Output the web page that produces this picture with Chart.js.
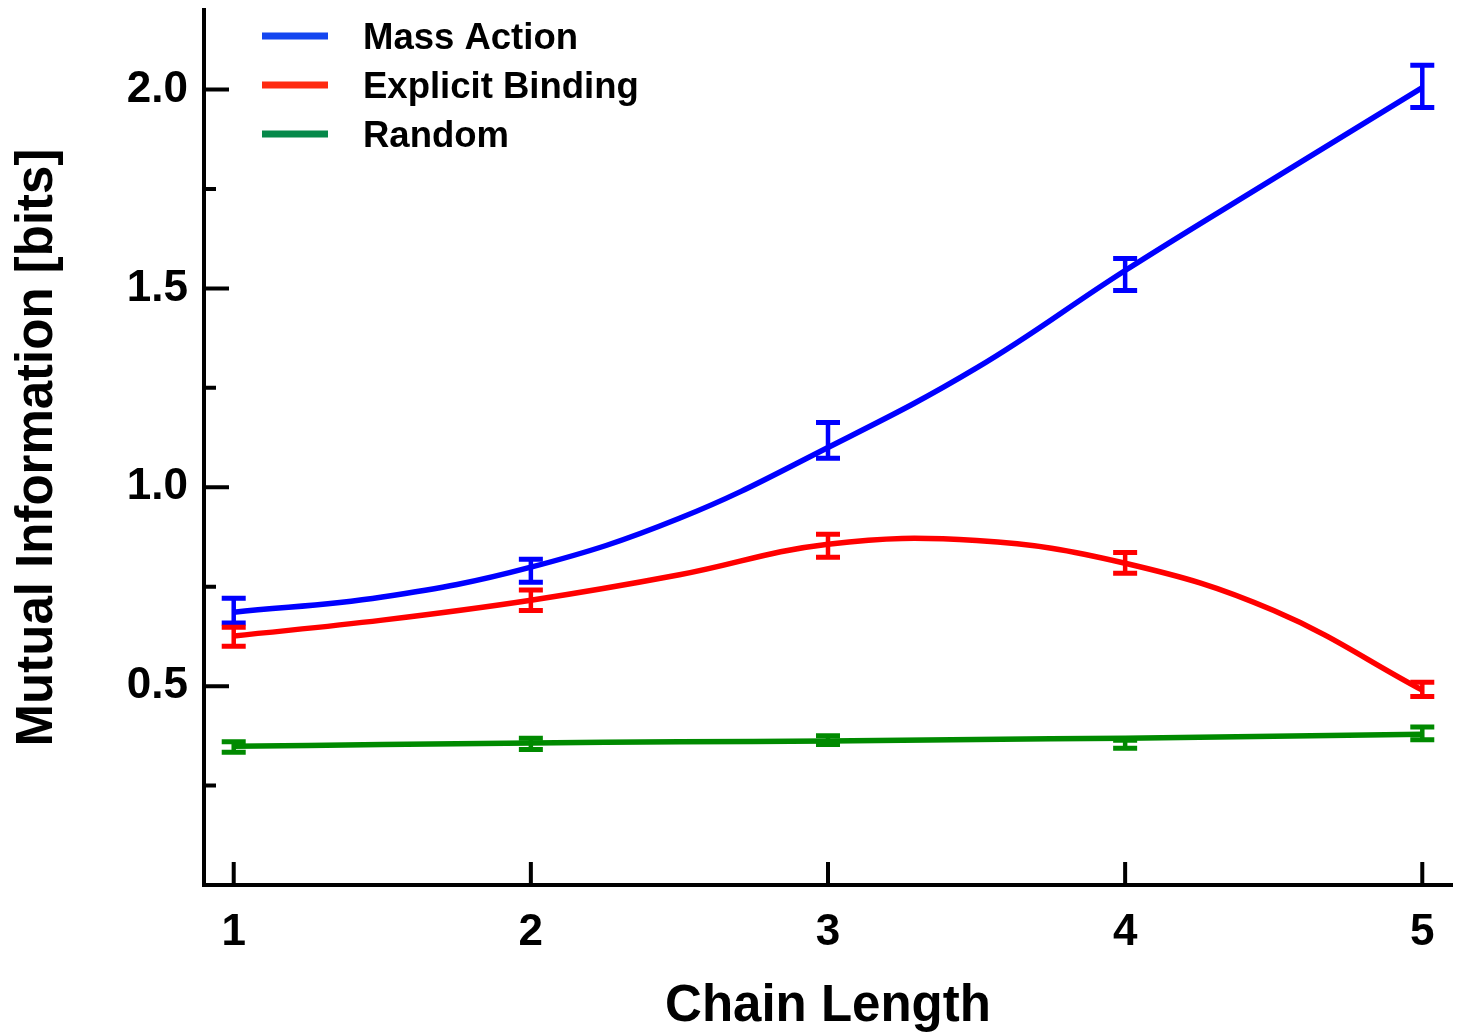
<!DOCTYPE html>
<html>
<head>
<meta charset="utf-8">
<script src="https://cdn.jsdelivr.net/npm/chart.js@4/dist/chart.umd.min.js"></script>
<style>
html,body{margin:0;padding:0;background:#fff;}
#wrap{width:1459px;height:1033px;position:relative;}
</style>
</head>
<body>
<div id="wrap"><canvas id="c" width="1459" height="1033"></canvas></div>
<script>
// ---- data ----
const chainLengths = [1, 2, 3, 4, 5];
const seriesNames = ['Mass Action', 'Explicit Binding', 'Random'];

// measured means and error half-widths
const massActionMean = [0.690, 0.790, 1.118, 1.535, 2.008];
const massActionErr  = [0.031, 0.029, 0.045, 0.040, 0.053];
const explicitMean   = [0.624, 0.716, 0.853, 0.810, 0.492];
const explicitErr    = [0.024, 0.026, 0.029, 0.026, 0.018];
const randomMean     = [0.347, 0.355, 0.364, 0.354, 0.381];
const randomErr      = [0.013, 0.014, 0.011, 0.010, 0.016];

// smooth fitted curves
const fitX          = [1, 1.5, 2, 2.5, 3, 3.5, 4, 4.5, 5];
const massActionFit = [0.686, 0.724, 0.799, 0.922, 1.100, 1.300, 1.545, 1.776, 2.005];
const explicitFit   = [0.626, 0.666, 0.716, 0.780, 0.857, 0.866, 0.809, 0.690, 0.490];
const randomFit     = [0.349, 0.353, 0.357, 0.360, 0.362, 0.366, 0.369, 0.374, 0.379];

// axis ticks
const xTickValues = [1, 2, 3, 4, 5];
const xTickLabels = ['1', '2', '3', '4', '5'];
const yMajorTicks = [0.5, 1.0, 1.5, 2.0];
const yTickLabels = ['0.5', '1.0', '1.5', '2.0'];
const yMinorTicks = [0.25, 0.75, 1.25, 1.75];

// ---- styling ----
const lineColors   = ['#0000ff', '#ff0000', '#008a00'];
const legendColors = ['#1446f0', '#ff2a10', '#06894a'];
const FONT = "'Liberation Sans', Arial, Helvetica, sans-serif";

const fits  = [massActionFit, explicitFit, randomFit];
const means = [massActionMean, explicitMean, randomMean];
const errs  = [massActionErr, explicitErr, randomErr];

const datasets = seriesNames.map((name, i) => ({
  label: name,
  data: fitX.map((x, k) => ({x: x, y: fits[i][k]})),
  borderColor: lineColors[i],
  backgroundColor: lineColors[i],
  borderWidth: 5.5,
  pointRadius: 0,
  tension: 0.4,
  fill: false,
  clip: false
}));

const decorPlugin = {
  id: 'decor',
  afterDatasetsDraw(chart) {
    const ctx = chart.ctx;
    const xs = chart.scales.x, ys = chart.scales.y;
    const area = chart.chartArea;
    ctx.save();
    // error bars
    for (let i = 0; i < seriesNames.length; i++) {
      ctx.strokeStyle = lineColors[i];
      for (let k = 0; k < chainLengths.length; k++) {
        const px = xs.getPixelForValue(chainLengths[k]);
        const top = ys.getPixelForValue(means[i][k] + errs[i][k]);
        const bot = ys.getPixelForValue(means[i][k] - errs[i][k]);
        ctx.lineWidth = 4.5;
        ctx.beginPath();
        ctx.moveTo(px, top); ctx.lineTo(px, bot);
        ctx.stroke();
        ctx.lineWidth = 5;
        ctx.beginPath();
        ctx.moveTo(px - 12, top); ctx.lineTo(px + 12, top);
        ctx.moveTo(px - 12, bot); ctx.lineTo(px + 12, bot);
        ctx.stroke();
      }
    }
    // inward tick marks
    ctx.strokeStyle = '#000';
    ctx.lineWidth = 4;
    ctx.beginPath();
    xTickValues.forEach(v => {
      const px = xs.getPixelForValue(v);
      ctx.moveTo(px, area.bottom); ctx.lineTo(px, area.bottom - 23);
    });
    yMajorTicks.forEach(v => {
      const py = ys.getPixelForValue(v);
      ctx.moveTo(area.left, py); ctx.lineTo(area.left + 25, py);
    });
    yMinorTicks.forEach(v => {
      const py = ys.getPixelForValue(v);
      ctx.moveTo(area.left, py); ctx.lineTo(area.left + 12, py);
    });
    ctx.stroke();
    // legend
    const lx0 = area.left + 58, lx1 = area.left + 124, tx = area.left + 159;
    const rowY = [36, 85, 134];
    ctx.font = 'bold 36.5px ' + FONT;
    ctx.textBaseline = 'middle';
    ctx.textAlign = 'left';
    seriesNames.forEach((name, i) => {
      ctx.strokeStyle = legendColors[i];
      ctx.lineWidth = 7;
      ctx.beginPath();
      ctx.moveTo(lx0, rowY[i]); ctx.lineTo(lx1, rowY[i]);
      ctx.stroke();
      ctx.fillStyle = '#000';
      ctx.fillText(name, tx, rowY[i] + 3);
    });
    ctx.restore();
  }
};

new Chart(document.getElementById('c'), {
  type: 'line',
  data: { datasets: datasets },
  plugins: [decorPlugin],
  options: {
    responsive: false,
    animation: false,
    layout: { padding: { top: 10, right: 7, left: 0, bottom: 0 } },
    plugins: { legend: { display: false }, tooltip: { enabled: false } },
    scales: {
      x: {
        type: 'linear',
        min: 0.9, max: 5.1,
        afterBuildTicks: s => { s.ticks = xTickValues.map(v => ({value: v})); },
        afterFit: s => { s.height = 148; s.paddingLeft = 0; s.paddingRight = 0; },
        ticks: {
          autoSkip: false, maxRotation: 0, padding: 21,
          color: '#000',
          font: { family: FONT, size: 44, weight: 'bold' },
          callback: v => { const k = xTickValues.indexOf(v); return k >= 0 ? xTickLabels[k] : ''; }
        },
        grid: { display: false, drawTicks: false },
        border: { display: true, color: '#000', width: 4 },
        title: {
          display: true, text: 'Chain Length', color: '#000',
          font: { family: FONT, size: 51, weight: 'bold' },
          padding: { top: 0, bottom: -5 }
        }
      },
      y: {
        type: 'linear',
        min: 0, max: 2.2,
        afterBuildTicks: s => { s.ticks = yMajorTicks.map(v => ({value: v})); },
        afterFit: s => { s.width = 204; s.paddingTop = 0; s.paddingBottom = 0; },
        ticks: {
          autoSkip: false, padding: 16, color: '#000',
          font: { family: FONT, size: 44, weight: 'bold' },
          callback: v => { const k = yMajorTicks.findIndex(t => Math.abs(t - v) < 1e-6); return k >= 0 ? yTickLabels[k] : ''; }
        },
        grid: { display: false, drawTicks: false },
        border: { display: true, color: '#000', width: 4 },
        title: {
          display: true, text: 'Mutual Information [bits]', color: '#000',
          font: { family: FONT, size: 51, weight: 'bold' },
          padding: { top: 7, bottom: 0 }
        }
      }
    }
  }
});
</script>
</body>
</html>
